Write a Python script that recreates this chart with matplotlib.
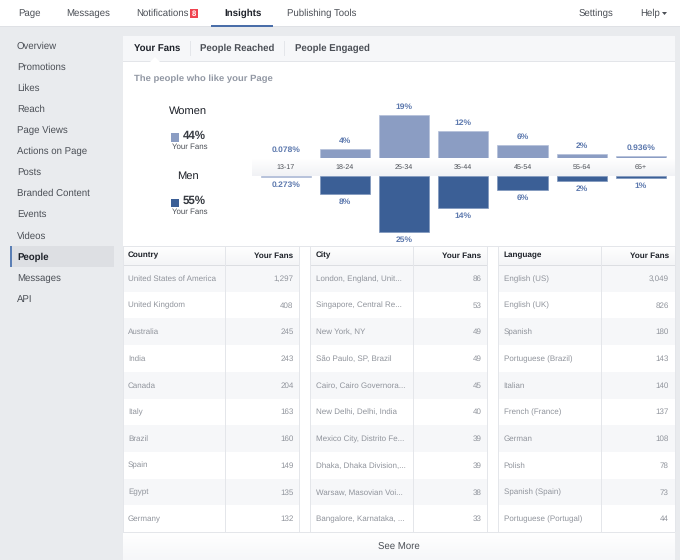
import numpy as np
import matplotlib
matplotlib.use('Agg')
import matplotlib.pyplot as plt
from matplotlib.patches import Rectangle, Polygon

plt.rcParams['font.family'] = ['Liberation Sans', 'DejaVu Sans']
plt.rcParams['text.hinting'] = 'no_hinting'

BG = '#e9ebee'
NAV = '#4b4f56'
GREY = '#90949c'
LINE = '#e4e6ea'
STRIPE = '#f6f7f9'
WOMEN = '#8b9dc3'
MEN = '#3b5f96'
LABEL = '#5d79ae'

ages = ['13-17', '18-24', '25-34', '35-44', '45-54', '55-64', '65+']
women = [0.078, 4, 19, 12, 6, 2, 0.936]
men = [0.273, 8, 25, 14, 6, 2, 1]
women_labels = ['0.078%', '4%', '19%', '12%', '6%', '2%', '0.936%']
men_labels = ['0.273%', '8%', '25%', '14%', '6%', '2%', '1%']

countries = [('United States of America', '1,297'), ('United Kingdom', '408'), ('Australia', '245'),
             ('India', '243'), ('Canada', '204'), ('Italy', '163'), ('Brazil', '160'),
             ('Spain', '149'), ('Egypt', '135'), ('Germany', '132')]
cities = [('London, England, Unit...', '86'), ('Singapore, Central Re...', '53'), ('New York, NY', '49'),
          ('São Paulo, SP, Brazil', '49'), ('Cairo, Cairo Governora...', '45'), ('New Delhi, Delhi, India', '40'),
          ('Mexico City, Distrito Fe...', '39'), ('Dhaka, Dhaka Division,...', '39'),
          ('Warsaw, Masovian Voi...', '38'), ('Bangalore, Karnataka, ...', '33')]
languages = [('English (US)', '3,049'), ('English (UK)', '826'), ('Spanish', '180'),
             ('Portuguese (Brazil)', '143'), ('Italian', '140'), ('French (France)', '137'),
             ('German', '108'), ('Polish', '78'), ('Spanish (Spain)', '73'), ('Portuguese (Portugal)', '44')]

side_items = ['Overview', 'Promotions', 'Likes', 'Reach', 'Page Views', 'Actions on Page', 'Posts',
              'Branded Content', 'Events', 'Videos', 'People', 'Messages', 'API']

fig = plt.figure(figsize=(6.8, 5.6), dpi=100, facecolor=BG)

# page background, in pixels
ax = fig.add_axes([0, 0, 1, 1])
ax.set_xlim(0, 680)
ax.set_ylim(560, 0)
ax.axis('off')


def box(x0, y0, x1, y1, color, z=1):
    ax.add_patch(Rectangle((x0, y0), x1 - x0, y1 - y0, facecolor=color, edgecolor='none', zorder=z))


def vgrad(x0, y0, x1, y1, c0, c1, z=2):
    g = np.linspace(0, 1, 32).reshape(-1, 1)
    cmap = matplotlib.colors.LinearSegmentedColormap.from_list('g', [c0, c1])
    ax.imshow(g, extent=(x0, x1, y1, y0), cmap=cmap, aspect='auto', zorder=z)


# top navigation
box(0, 0, 680, 26, 'white')
box(0, 26, 680, 27, '#dfe1e5')
for x, name in [(18, 'Page'), (66.5, 'Messages'), (136, 'Notifications'), (287, 'Publishing Tools'),
                (579, 'Settings'), (640, 'Help')]:
    ax.text(x, 13.5, name, fontsize=6.9, color=NAV, va='center', zorder=3)
ax.text(224, 13.5, 'Insights', fontsize=7, color='#1d2129', weight='bold', va='center', zorder=3)
box(211, 24.5, 273, 26.5, '#4a6ea9', 3)
box(189.5, 9, 197.5, 18, '#f0434f', 3)
ax.text(193.5, 13.5, '8', fontsize=5.5, color='white', weight='bold', ha='center', va='center', zorder=4)
ax.add_patch(Polygon([(662, 12), (667, 12), (664.5, 15)], facecolor=NAV, edgecolor='none', zorder=3))

# sidebar
box(10, 246, 114, 267, '#dddfe3')
box(10, 246, 12, 267, '#5b7fb5', 2)
for i, name in enumerate(side_items):
    y = 46 + i * 21.1
    if name == 'People':
        ax.text(17, y, name, fontsize=6.9, color='#1d2129', weight='bold', va='center', zorder=3)
    else:
        ax.text(17, y, name, fontsize=6.9, color=NAV, va='center', zorder=3)

# card and its tabs
box(123, 36, 675, 560, 'white')
box(123, 36, 675, 61, STRIPE, 2)
box(123, 61, 675, 62, '#e3e5e9', 2)
box(189.5, 41, 190.5, 56, LINE, 3)
box(283.5, 41, 284.5, 56, LINE, 3)
ax.add_patch(Polygon([(150, 62), (155, 57), (160, 62)], facecolor='white', edgecolor='none', zorder=3))
ax.text(133.5, 48, 'Your Fans', fontsize=6.9, color='#1d2129', weight='bold', va='center', zorder=3)
ax.text(200.5, 48, 'People Reached', fontsize=6.9, color=NAV, weight='bold', va='center', zorder=3)
ax.text(295, 48, 'People Engaged', fontsize=6.9, color=NAV, weight='bold', va='center', zorder=3)
ax.text(133.5, 78.5, 'The people who like your Page', fontsize=6.8, color='#9197a3', weight='bold', va='center', zorder=3)

# legend on the left of the chart
for y, name, pct, col in [(111, 'Women', '44%', WOMEN), (176.5, 'Men', '55%', MEN)]:
    ax.text(187.5, y, name, fontsize=8, color='#1d2129', ha='center', va='center', zorder=3)
    box(170.5, y + 22, 179, y + 30.5, col, 3)
    ax.text(183, y + 24.5, pct, fontsize=8.3, color='#373b42', weight='bold', va='center', zorder=3)
    ax.text(189.5, y + 35.5, 'Your Fans', fontsize=5.7, color=NAV, ha='center', va='center', zorder=3)

# tables
tables = [
    (123, 225.5, 299.5, 'Country', countries),
    (310.5, 413.5, 487.5, 'City', cities),
    (498.5, 601.5, 675, 'Language', languages),
]
row_h = 26.7
top = 265
for x0, xm, x1, title, rows in tables:
    vgrad(x0, 246, x1, 265, '#ffffff', '#f4f5f7')
    box(x0, 264.5, x1, 265.5, '#dcdee2', 3)
    ax.text(x0 + 5, 255.5, title, fontsize=5.9, color='#1d2129', weight='bold', va='center', zorder=4)
    ax.text(x1 - 6, 255.5, 'Your Fans', fontsize=5.9, color='#1d2129', weight='bold', ha='right', va='center', zorder=4)
    for i, (name, fans) in enumerate(rows):
        y = top + i * row_h
        if i % 2 == 0:
            box(x0, y, x1, y + row_h, STRIPE, 2)
        ax.text(x0 + 5, y + row_h / 2 + 0.5, name, fontsize=5.8, color=GREY, va='center', zorder=4)
        ax.text(x1 - 6, y + row_h / 2 + 0.5, fans, fontsize=5.8, color=GREY, ha='right', va='center', zorder=4)
    box(xm - 0.5, 246, xm + 0.5, 532, LINE, 3)
    box(x0 - 0.5, 246, x0 + 0.5, 532, LINE, 3)
    box(x1 - 0.5, 246, x1 + 0.5, 532, LINE, 3)
box(123, 245.5, 675, 246.5, LINE, 3)

# see more
vgrad(123, 532, 675, 560, '#ffffff', '#f6f7f9')
box(123, 531.5, 675, 532.5, LINE, 3)
ax.text(399, 547.5, 'See More', fontsize=6.9, color=NAV, va='center', ha='center', zorder=4)

ax.set_xlim(0, 680)
ax.set_ylim(560, 0)

# age chart: 59.2 px per category, 2.25 px per percent, bars start at the band edges
PX_X = 59.2
PX_Y = 2.25
X0 = 285.7
Y0 = 167
L, R, T, B = 252, 675, 98, 248
cax = fig.add_axes([L / 680, 1 - B / 560, (R - L) / 680, (B - T) / 560])
cax.patch.set_alpha(0)
cax.set_xlim((L - X0) / PX_X, (R - X0) / PX_X)
cax.set_ylim((Y0 - B) / PX_Y, (Y0 - T) / PX_Y)
cax.axis('off')

band = 9 / PX_Y
xs = np.arange(len(ages))
cax.bar(xs, women, width=0.845, bottom=band, color=WOMEN, edgecolor='#b4c0d9', linewidth=0.5, zorder=2)
cax.bar(xs[1:], -np.array(men[1:]), width=0.845, bottom=-band, color=MEN, edgecolor='#7f97bd', linewidth=0.5, zorder=2)
cax.bar(xs[0], -men[0], width=0.845, bottom=-band, color=WOMEN, edgecolor='#b4c0d9', linewidth=0.5, zorder=2)
g = np.linspace(0, 1, 16).reshape(-1, 1)
cmap = matplotlib.colors.LinearSegmentedColormap.from_list('band', ['#ffffff', '#f1f2f5'])
cax.imshow(g, extent=(cax.get_xlim()[0], cax.get_xlim()[1], -band, band), origin='upper', cmap=cmap,
           aspect='auto', zorder=3)
cax.set_xlim((L - X0) / PX_X, (R - X0) / PX_X)
cax.set_ylim((Y0 - B) / PX_Y, (Y0 - T) / PX_Y)

for i in xs:
    cax.text(i, 0, ages[i], fontsize=5.1, color=NAV, ha='center', va='center', zorder=4)
    cax.annotate(women_labels[i], (i, women[i] + band), xytext=(0, 5.7), textcoords='offset points',
                 fontsize=6.1, color=LABEL, weight='bold', ha='center', va='center', zorder=4)
    cax.annotate(men_labels[i], (i, -men[i] - band), xytext=(0, -5.7), textcoords='offset points',
                 fontsize=6.1, color=LABEL, weight='bold', ha='center', va='center', zorder=4)

plt.savefig('out.png', dpi=100, facecolor=BG)
